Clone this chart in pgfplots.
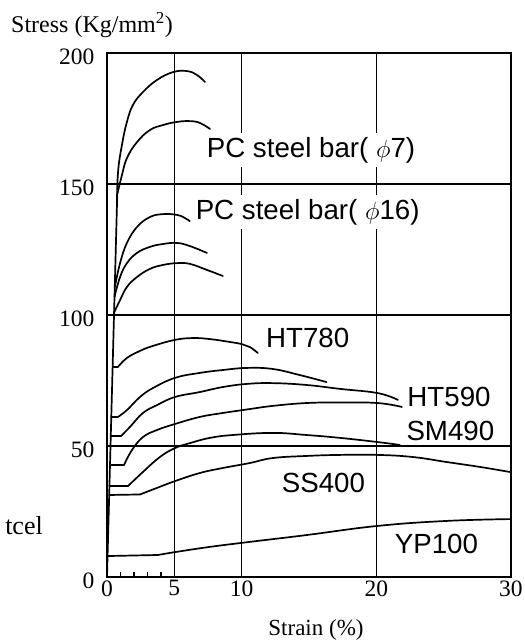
\documentclass[border=0pt]{standalone}
\usepackage{fontspec}
\setmainfont{Liberation Serif}
\setsansfont{Liberation Sans}
\usepackage{pgfplots}
\pgfplotsset{compat=1.18}
\newcommand\lab{\fontsize{27.7}{30}\sffamily}
\pgfplotsset{
  cv/.style={draw=black, line width=1.7pt, smooth, tension=0.7, mark=none, line join=round, line cap=round},
  pl/.style={draw=black, line width=1.7pt, mark=none, line join=round, line cap=round},
}
\begin{document}
\begin{tikzpicture}
\begin{axis}[
  at={(0,0)}, anchor=south west, name=ax,
  scale only axis, width=404pt, height=524pt,
  xmin=0, xmax=30, ymin=0, ymax=200,
  xtick={0,5,10,20,30}, ytick={0,50,100,150,200},
  minor xtick={1,2,3,4},
  xtick pos=bottom, ytick pos=left,
  major tick length=0pt, minor tick length=5pt,
  tick align=inside,
  grid=major,
  major grid style={black, line width=1.3pt},
  axis line style={line width=1.6pt},
  every tick/.style={black, line width=1.3pt},
  ticklabel style={font=\fontsize{23.5}{25}\selectfont},
  /pgf/number format/assume math mode=true,
  yticklabel style={xshift=-9pt, yshift=-4pt},
  clip=false,
]
% elastic part (shared)
\addplot[pl] coordinates {(0,0) (0.74,142)};
% PC steel bar phi 7
\addplot[cv] coordinates {(0.74,142) (0.82,154.6) (1.11,164.9) (1.48,173.7) (1.93,180.2) (2.67,185.1) (3.71,189.7) (4.9,192.7) (5.94,193.1) (6.68,191.6) (7.28,188.9)};
\addplot[cv] coordinates {(0.76,146) (1.11,153.4) (1.48,159.9) (2.23,166.0) (3.19,170.6) (4.16,172.5) (5.2,173.7) (6.16,174.0) (6.9,173.3) (7.65,171.0)};
% PC steel bar phi 16
\addplot[cv] coordinates {(0.58,110.7) (0.97,119.8) (1.48,127.5) (2.23,133.6) (3.19,137.4) (4.16,138.5) (5.2,138.2) (5.79,137.0) (6.15,135.8)};
\addplot[cv] coordinates {(0.56,106.9) (0.97,114.5) (1.48,119.8) (2.23,123.7) (3.19,126.0) (4.16,127.1) (5.2,127.5) (6.16,126.3) (7.42,123.7)};
\addplot[cv] coordinates {(0.52,100.8) (0.97,105.7) (1.48,110.7) (2.23,114.5) (3.19,117.6) (4.16,119.1) (5.2,119.8) (6.16,119.5) (7.42,117.2) (8.6,114.9)};
% HT780
\addplot[pl] coordinates {(0.42,80.2) (0.82,80.2)};
\addplot[cv] coordinates {(0.82,80.2) (1.48,83.6) (2.45,86.3) (3.41,88.2) (5.05,90.5) (6.38,91.2) (7.65,90.8) (9.13,89.7) (10.0,88.9) (10.6,87.8) (11.2,85.5)};
% HT590 group
\addplot[pl] coordinates {(0.32,61.1) (0.82,61.1)};
\addplot[cv] coordinates {(0.82,61.1) (1.48,63.7) (2.45,68.7) (3.41,72.1) (5.05,76.0) (6.9,77.9) (8.6,79.0) (10.4,79.8) (12.3,79.4) (14.3,77.1) (16.3,74.4)};
\addplot[pl] coordinates {(0.28,53.8) (1.04,53.8)};
\addplot[cv] coordinates {(1.04,53.8) (1.71,57.3) (2.67,62.6) (3.71,65.6) (5.05,68.7) (6.9,70.6) (8.6,72.5) (10.4,73.7) (12.3,74.0) (14.8,73.3) (17.3,71.8) (20.1,70.2) (21.6,67.6)};
\addplot[pl] coordinates {(0.22,42.7) (1.26,42.7)};
\addplot[cv] coordinates {(1.26,42.7) (1.86,48.5) (2.67,53.4) (3.71,56.1) (5.05,58.4) (6.9,61.1) (8.6,62.6) (10.6,64.1) (12.3,65.3) (14.8,66.4) (17.3,66.6) (20.1,66.4) (21.9,64.9)};
% SM490
\addplot[pl] coordinates {(0.18,34.7) (1.56,34.7)};
\addplot[cv] coordinates {(1.56,34.7) (2.67,40.1) (3.93,45.8) (5.05,49.2) (6.16,51.1) (7.65,53.1) (9.35,54.2) (12.3,55.0) (14.8,54.2) (17.3,53.1) (20.1,51.5) (21.75,50.4)};
% SS400
\addplot[pl] coordinates {(0.16,31.3) (2.45,31.5)};
\addplot[cv] coordinates {(2.45,31.5) (3.71,34.0) (5.05,36.6) (6.9,39.7) (8.6,41.6) (10.6,43.5) (12.3,45.4) (14.8,46.2) (17.3,46.6) (20.1,46.6) (22.7,45.8) (25.2,43.9) (27.7,42.0) (29.9,40.1)};
% YP100
\addplot[pl] coordinates {(0.04,8.0) (3.79,8.4)};
\addplot[cv] coordinates {(3.79,8.4) (5.05,9.5) (7.65,11.5) (10.6,13.4) (14.8,16.0) (20.1,19.5) (25.2,21.4) (29.9,22.1)};
% labels
\node[font=\lab, fill=white, inner sep=4pt] at (axis cs:15.15,163) {PC steel bar( $\phi$7)};
\node[font=\lab, fill=white, inner sep=4pt] at (axis cs:14.9,139.3) {PC steel bar( $\phi$16)};
\node[font=\lab, inner sep=0pt] at (axis cs:14.9,91.2) {HT780};
\node[font=\lab, inner sep=0pt] at (axis cs:25.4,68.7) {HT590};
\node[font=\lab, inner sep=0pt] at (axis cs:25.5,55.7) {SM490};
\node[font=\lab, inner sep=0pt] at (axis cs:16.07,35.9) {SS400};
\node[font=\lab, inner sep=0pt] at (axis cs:24.46,12.6) {YP100};
\end{axis}
\node[font=\fontsize{24}{26}\selectfont, anchor=base west, inner sep=0pt] at (-96pt,544pt) {Stress (Kg/mm\textsuperscript{2})};
\node[font=\fontsize{23}{25}\selectfont, inner sep=0pt] at (209pt,-53pt) {Strain (\%)};
\node[font=\fontsize{26}{28}\selectfont, anchor=base east, inner sep=0pt] at (-64pt,42pt) {tcel};
\pgfresetboundingbox
\useasboundingbox (-107pt,-64pt) rectangle (418pt,577pt);
\end{tikzpicture}
\end{document}
